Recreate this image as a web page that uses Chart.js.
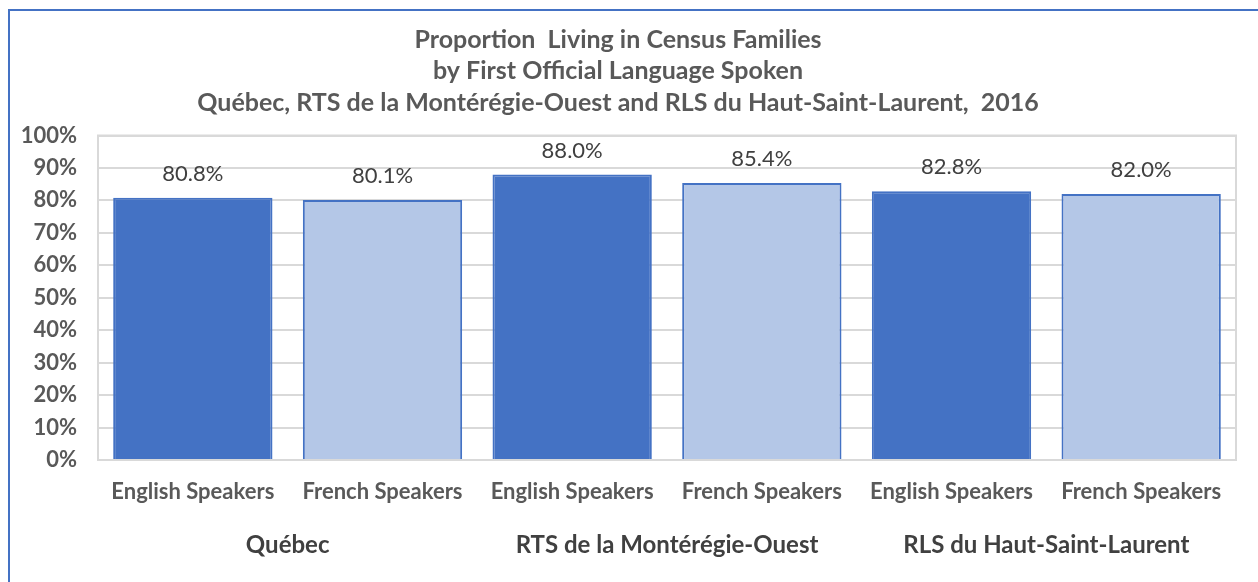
<!DOCTYPE html>
<html>
<head>
<meta charset="utf-8">
<script src="https://cdn.jsdelivr.net/npm/chart.js@4/dist/chart.umd.min.js"></script>
<style>
  html, body { margin: 0; padding: 0; background: #fff; }
  #wrap { position: absolute; left: 0; top: 0; width: 1258px; height: 582px; }
  #frame { position: absolute; left: 8px; top: 9px; width: 1260px; height: 600px;
           border-left: 2px solid #4472C4; border-top: 2px solid #4472C4; box-sizing: border-box; pointer-events: none; }
</style>
</head>
<body>
<div id="wrap">
  <canvas id="c" width="1258" height="582"></canvas>
  <div id="frame"></div>
</div>
<script>
const titleLines = [
  'Proportion  Living in Census Families',
  'by First Official Language Spoken',
  'Québec, RTS de la Montérégie-Ouest and RLS du Haut-Saint-Laurent,  2016'
];
const categories = ['English Speakers', 'French Speakers', 'English Speakers', 'French Speakers', 'English Speakers', 'French Speakers'];
const groups = ['Québec', 'RTS de la Montérégie-Ouest', 'RLS du Haut-Saint-Laurent'];
const values = [80.8, 80.1, 88.0, 85.4, 82.8, 82.0];
const barColors = ['#4472C4', '#B4C7E7', '#4472C4', '#B4C7E7', '#4472C4', '#B4C7E7'];

const FONT = 'Lato, "Open Sans", sans-serif';

const decor = {
  id: 'decor',
  afterDatasetsDraw(chart) {
    const ctx = chart.ctx;
    const a = chart.chartArea;
    const meta = chart.getDatasetMeta(0);
    ctx.save();
    // value labels
    ctx.font = '400 22px ' + FONT;
    ctx.fillStyle = '#404040';
    ctx.textAlign = 'center';
    ctx.textBaseline = 'middle';
    meta.data.forEach((bar, i) => {
      ctx.fillText(values[i].toFixed(1) + '%', bar.x, bar.y - 24);
    });
    // group labels
    const xs = chart.scales.x;
    ctx.font = '700 24px ' + FONT;
    ctx.fillStyle = '#404040';
    groups.forEach((g, gi) => {
      const x = (xs.getPixelForValue(gi * 2) + xs.getPixelForValue(gi * 2 + 1)) / 2;
      ctx.fillText(g, x, 545);
    });
    // plot border
    ctx.strokeStyle = '#D9D9D9';
    ctx.lineWidth = 2;
    ctx.strokeRect(a.left, a.top, a.right - a.left, a.bottom - a.top);
    ctx.restore();
  }
};

new Chart(document.getElementById('c'), {
  type: 'bar',
  data: {
    labels: categories,
    datasets: [{
      data: values,
      backgroundColor: barColors,
      borderColor: '#4472C4',
      borderWidth: 2,
      barPercentage: 0.84,
      categoryPercentage: 1.0
    }]
  },
  plugins: [decor],
  options: {
    responsive: false,
    animation: false,
    layout: { padding: { left: 0, right: 22, top: 0, bottom: 0 } },
    plugins: {
      legend: { display: false },
      tooltip: { enabled: false },
      title: {
        display: true,
        text: titleLines,
        color: '#595959',
        font: { family: FONT, size: 25, weight: '700', lineHeight: 1.26 },
        padding: { top: 24, bottom: 17 }
      }
    },
    scales: {
      x: {
        grid: { display: false, drawTicks: false },
        border: { display: true, color: '#D9D9D9', width: 2 },
        ticks: { color: '#595959', font: { family: FONT, size: 22, weight: '700', lineHeight: 1.0 }, padding: 21, maxRotation: 0, autoSkip: false },
        afterFit(scale) { scale.height = 122; }
      },
      y: {
        min: 0, max: 100,
        grid: { color: '#D9D9D9', lineWidth: 2, drawTicks: false },
        border: { display: true, color: '#D9D9D9', width: 2 },
        ticks: {
          stepSize: 10,
          color: '#595959',
          font: { family: FONT, size: 22, weight: '700' },
          padding: 21,
          callback: v => v + '%'
        },
        afterFit(scale) { scale.width = 98; }
      }
    }
  }
});
</script>
</body>
</html>
